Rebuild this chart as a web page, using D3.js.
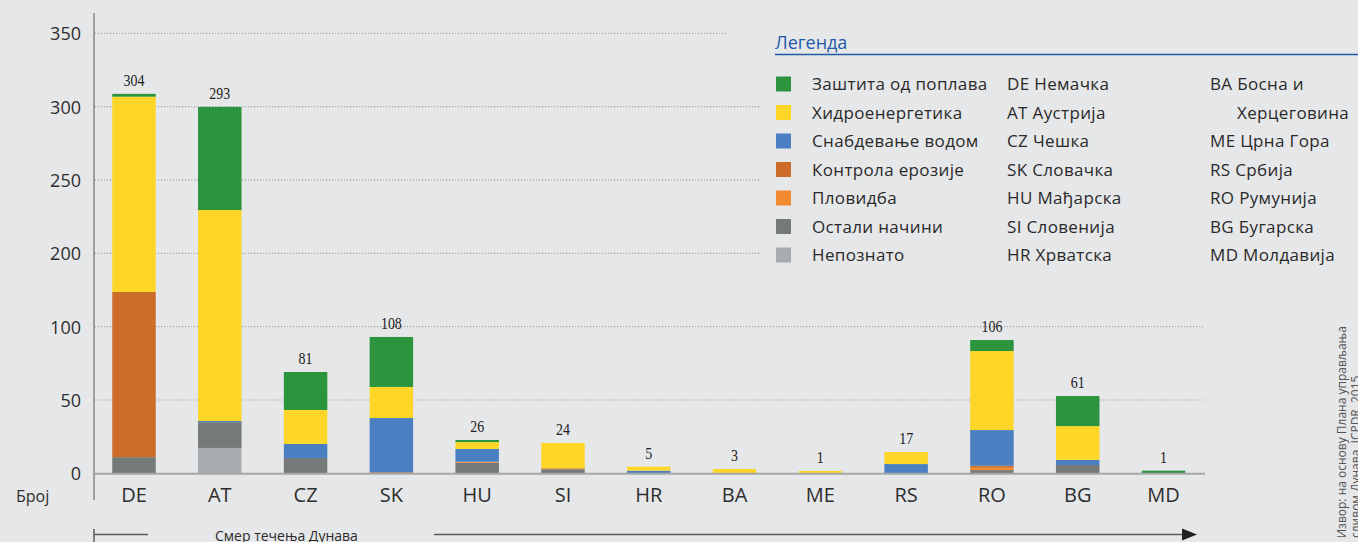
<!DOCTYPE html>
<html>
<head>
<meta charset="utf-8">
<script src="https://cdn.jsdelivr.net/npm/d3@7"></script>
<style>
  html, body { margin: 0; padding: 0; background: #e6e7e9; }
  svg { display: block; }
</style>
</head>
<body>
<svg id="chart"></svg>
<script>
'use strict';

// countries along the Danube, upstream -> downstream
const countries = ['DE', 'AT', 'CZ', 'SK', 'HU', 'SI', 'HR', 'BA', 'ME', 'RS', 'RO', 'BG', 'MD'];
const totals = [304, 293, 81, 108, 26, 24, 5, 3, 1, 17, 106, 61, 1];

// segment values (as drawn), bottom -> top
const unknown    = [0, 17.3, 0, 0, 0, 0, 0, 0, 0, 0, 0, 0, 0];
const other      = [11, 17.5, 10.4, 0, 7.2, 2.7, 0, 0, 0, 0, 2.2, 5.7, 0];
const navigation = [0, 0, 0, 0, 0.7, 0, 0, 0, 0, 0, 1.6, 0, 0];
const erosion    = [136.3, 0, 0, 0.7, 0, 0.7, 0, 0, 0, 0, 1.4, 0, 0];
const water      = [0, 0.9, 9.6, 37, 8.7, 0, 1.8, 0, 0, 6.3, 24.3, 3.4, 0];
const hydro      = [159.5, 193.8, 23.2, 21.2, 4.7, 17.3, 2.7, 2.9, 1.6, 8.2, 53.9, 23.1, 0];
const flood      = [1.9, 70.3, 25.9, 34.1, 1.4, 0, 0, 0, 0, 0, 7.5, 20.5, 1.8];

const yTicks = [0, 50, 100, 200, 250, 300, 350];

const legendNames = ['Заштита од поплава', 'Хидроенергетика', 'Снабдевање водом', 'Контрола ерозије', 'Пловидба', 'Остали начини', 'Непознато'];
const legendKeys = ['flood', 'hydro', 'water', 'erosion', 'navigation', 'other', 'unknown'];
const colors = {
    flood: '#2b943c',
    hydro: '#fdd627',
    water: '#4a80c2',
    erosion: '#cc6d2a',
    navigation: '#f28b2f',
    other: '#767979',
    unknown: '#a9acae'
};
const countryCol1 = ['DE Немачка', 'AT Аустрија', 'CZ Чешка', 'SK Словачка', 'HU Мађарска', 'SI Словенија', 'HR Хрватска'];
const countryCol2 = ['BA Босна и', 'Херцеговина', 'ME Црна Гора', 'RS Србија', 'RO Румунија', 'BG Бугарска', 'MD Молдавија'];

(function () {
    const width = 1358;
    const height = 542;
    const axisFont = '"Open Sans", sans-serif';

    const svg = d3.select('#chart')
        .attr('width', width)
        .attr('height', height);

    svg.append('rect')
        .attr('width', width)
        .attr('height', height)
        .attr('fill', '#e6e7e9');

    const rows = countries.map((c, i) => ({
        country: c,
        unknown: unknown[i], other: other[i], navigation: navigation[i], erosion: erosion[i],
        water: water[i], hydro: hydro[i], flood: flood[i]
    }));
    const stackKeys = ['unknown', 'other', 'navigation', 'erosion', 'water', 'hydro', 'flood'];
    const series = d3.stack().keys(stackKeys)(rows);

    // broken axis: 100..200 squeezed into one tick step
    const y = d3.scaleLinear()
        .domain([0, 100, 200, 350])
        .range([473.3, 326.7, 253.3, 33.3]);

    const x = d3.scaleBand()
        .domain(countries)
        .range([91.1, 1206.4])
        .paddingInner(0.493)
        .paddingOuter(0.2465);

    // gridlines
    svg.append('g')
        .selectAll('line')
        .data(yTicks.filter(d => d > 0))
        .enter().append('line')
        .attr('x1', 95)
        .attr('x2', d => d === 350 ? 727 : (d >= 200 ? 760 : 1205))
        .attr('y1', d => y(d))
        .attr('y2', d => y(d))
        .attr('stroke', '#a3a4a6')
        .attr('stroke-width', 1.2)
        .attr('stroke-dasharray', '1.2,1.8');

    // bars
    svg.append('g')
        .selectAll('g')
        .data(series)
        .enter().append('g')
        .attr('fill', d => colors[d.key])
        .selectAll('rect')
        .data(d => d.map((v, i) => ({ v: v, c: countries[i] })))
        .enter().append('rect')
        .attr('x', d => x(d.c))
        .attr('width', x.bandwidth())
        .attr('y', d => y(d.v[1]))
        .attr('height', d => Math.max(0, y(d.v[0]) - y(d.v[1])));

    // baseline and vertical axis
    svg.append('line')
        .attr('x1', 94).attr('x2', 1205)
        .attr('y1', y(0) + 0.4).attr('y2', y(0) + 0.4)
        .attr('stroke', '#a6a7a9')
        .attr('stroke-width', 2);
    svg.append('line')
        .attr('x1', 94).attr('x2', 94)
        .attr('y1', 13).attr('y2', 500)
        .attr('stroke', '#9d9ea0')
        .attr('stroke-width', 2);

    // y axis labels
    const yAxis = svg.append('g')
        .attr('transform', 'translate(94,0)')
        .call(d3.axisLeft(y).tickValues(yTicks).tickSize(0).tickPadding(13));
    yAxis.select('.domain').remove();
    yAxis.selectAll('text')
        .attr('font-family', axisFont)
        .attr('font-size', 18)
        .attr('fill', '#2e2e2e')
        .attr('dy', '0.36em');

    // x axis labels
    const xAxis = svg.append('g')
        .call(d3.axisBottom(x).tickSize(0));
    xAxis.select('.domain').remove();
    xAxis.selectAll('text')
        .attr('y', 502)
        .attr('dy', 0)
        .attr('font-family', axisFont)
        .attr('font-size', 20)
        .attr('fill', '#2e2e2e');

    svg.append('text')
        .attr('x', 16)
        .attr('y', 502)
        .attr('font-family', axisFont)
        .attr('font-size', 16)
        .attr('fill', '#2e2e2e')
        .text('Број');

    // totals above bars
    const top = series[series.length - 1];
    svg.append('g')
        .selectAll('text')
        .data(countries)
        .enter().append('text')
        .attr('transform', (c, i) => 'translate(' + (x(c) + x.bandwidth() / 2) + ',' + (y(top[i][1]) - 8) + ') scale(0.82,1)')
        .attr('text-anchor', 'middle')
        .attr('font-family', '"Liberation Serif", serif')
        .attr('font-size', 17)
        .attr('fill', '#222')
        .text((c, i) => totals[i]);

    // legend
    const legend = svg.append('g');
    legend.append('text')
        .attr('x', 775)
        .attr('y', 49)
        .attr('font-family', axisFont)
        .attr('font-size', 18)
        .attr('fill', '#1f5aa8')
        .text('Легенда');
    legend.append('line')
        .attr('x1', 775).attr('x2', width)
        .attr('y1', 54.5).attr('y2', 54.5)
        .attr('stroke', '#1f5aa8')
        .attr('stroke-width', 1.5);

    const rowY = i => 84 + i * 28.5;
    legend.selectAll('rect')
        .data(legendKeys)
        .enter().append('rect')
        .attr('x', 776)
        .attr('y', (d, i) => rowY(i) - 7.5)
        .attr('width', 15)
        .attr('height', 15)
        .attr('fill', d => colors[d]);

    const legendText = (data, xPos) => legend.append('g')
        .selectAll('text')
        .data(data)
        .enter().append('text')
        .attr('x', d => xPos + (d === 'Херцеговина' ? 27 : 0))
        .attr('y', (d, i) => rowY(i))
        .attr('dy', '0.36em')
        .attr('font-family', axisFont)
        .attr('font-size', 17)
        .attr('letter-spacing', 0.35)
        .attr('fill', '#2a2a2a')
        .text(d => d);

    legendText(legendNames, 812);
    legendText(countryCol1, 1007);
    legendText(countryCol2, 1210);

    // flow direction arrow
    const arrow = svg.append('g')
        .attr('stroke', '#5a5a5a')
        .attr('stroke-width', 1.5);
    arrow.append('line').attr('x1', 94).attr('x2', 94).attr('y1', 529).attr('y2', 542);
    arrow.append('line').attr('x1', 94).attr('x2', 148).attr('y1', 534.5).attr('y2', 534.5);
    arrow.append('line').attr('x1', 434).attr('x2', 1184).attr('y1', 534.5).attr('y2', 534.5);
    svg.append('path')
        .attr('d', 'M1182,528.5 L1197,534.5 L1182,540.5 Z')
        .attr('fill', '#222');
    svg.append('text')
        .attr('x', 215)
        .attr('y', 541)
        .attr('font-family', axisFont)
        .attr('font-size', 14)
        .attr('fill', '#2a2a2a')
        .text('Смер течења Дунава');

    // source note, rotated
    const note = svg.append('g')
        .attr('font-family', axisFont)
        .attr('font-size', 12)
        .attr('fill', '#555');
    note.append('text')
        .attr('transform', 'translate(1346,538) rotate(-90)')
        .text('Извор: на основу Плана управљања');
    note.append('text')
        .attr('transform', 'translate(1360,538) rotate(-90)')
        .text('сливом Дунава, ICPDR, 2015');
})();
</script>
</body>
</html>
